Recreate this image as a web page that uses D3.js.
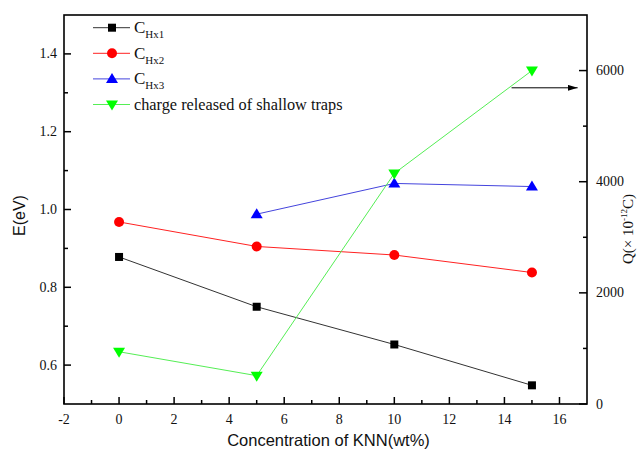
<!DOCTYPE html>
<html>
<head>
<meta charset="utf-8">
<script src="https://cdn.jsdelivr.net/npm/d3@7"></script>
<style>
body { margin: 0; background: #fff; }
svg text { fill: #111; }
.serif { font-family: "Liberation Serif", "DejaVu Serif", serif; }
.sans { font-family: "Liberation Sans", Arial, sans-serif; }
</style>
</head>
<body>
<svg id="view" width="637" height="457"></svg>
<script>
const concentration = [0, 5, 10, 15];
const cHx1 = [0.878, 0.750, 0.653, 0.548];
const cHx2 = [0.968, 0.905, 0.883, 0.838];
const cHx3 = [null, 0.988, 1.067, 1.059];
const shallowCharge = [940, 510, 4150, 6000];

const xTicks = [-2, 0, 2, 4, 6, 8, 10, 12, 14, 16];
const eTicks = [0.6, 0.8, 1.0, 1.2, 1.4];
const qTicks = [0, 2000, 4000, 6000];

const seriesE = [
    { sub: 'Hx1', values: cHx1, line: '#333', fill: '#000', shape: 'square' },
    { sub: 'Hx2', values: cHx2, line: '#f22', fill: '#f00', shape: 'circle' },
    { sub: 'Hx3', values: cHx3, line: '#44d', fill: '#00f', shape: 'up' }
];

const svg = d3.select('svg#view');
const plotL = 64, plotR = 587, plotT = 15, plotB = 404;

const x = d3.scaleLinear().domain([-2, 17]).range([plotL, plotR]);
const yE = d3.scaleLinear().domain([0.5, 1.5]).range([plotB, plotT]);
const yQ = d3.scaleLinear().domain([0, 7000]).range([plotB, plotT]);

function marker(sel, shape, fill) {
    if (shape === 'square') {
        sel.append('rect').attr('x', -4).attr('y', -4).attr('width', 8).attr('height', 8).attr('fill', fill);
    } else if (shape === 'circle') {
        sel.append('circle').attr('r', 5).attr('fill', fill);
    } else if (shape === 'up') {
        sel.append('path').attr('d', 'M0,-6L6,4L-6,4Z').attr('fill', fill);
    } else {
        sel.append('path').attr('d', 'M0,6L6,-4L-6,-4Z').attr('fill', fill);
    }
}

// axes (ticks inward)
const xAxis = svg.append('g').attr('transform', 'translate(0,' + plotB + ')');
xAxis.selectAll('line.major').data(xTicks).enter().append('line')
    .attr('x1', d => x(d)).attr('x2', d => x(d)).attr('y1', 0).attr('y2', -7)
    .attr('stroke', '#000').attr('stroke-width', 1.5);
xAxis.selectAll('line.minor').data(d3.range(-1, 17, 2)).enter().append('line')
    .attr('x1', d => x(d)).attr('x2', d => x(d)).attr('y1', 0).attr('y2', -4)
    .attr('stroke', '#000').attr('stroke-width', 1.5);
xAxis.selectAll('text').data(xTicks).enter().append('text')
    .attr('class', 'serif').attr('x', d => x(d)).attr('y', 20)
    .attr('text-anchor', 'middle').attr('font-size', 14).text(d => d);

const eAxis = svg.append('g').attr('transform', 'translate(' + plotL + ',0)');
eAxis.selectAll('line.major').data(eTicks).enter().append('line')
    .attr('y1', d => yE(d)).attr('y2', d => yE(d)).attr('x1', 0).attr('x2', 7)
    .attr('stroke', '#000').attr('stroke-width', 1.5);
eAxis.selectAll('line.minor').data([0.7, 0.9, 1.1, 1.3]).enter().append('line')
    .attr('y1', d => yE(d)).attr('y2', d => yE(d)).attr('x1', 0).attr('x2', 4)
    .attr('stroke', '#000').attr('stroke-width', 1.5);
eAxis.selectAll('text').data(eTicks).enter().append('text')
    .attr('class', 'serif').attr('x', -7).attr('y', d => yE(d) + 4.5)
    .attr('text-anchor', 'end').attr('font-size', 14).text(d => d.toFixed(1));

const qAxis = svg.append('g').attr('transform', 'translate(' + plotR + ',0)');
qAxis.selectAll('line.major').data(qTicks).enter().append('line')
    .attr('y1', d => yQ(d)).attr('y2', d => yQ(d)).attr('x1', 0).attr('x2', -8)
    .attr('stroke', '#000').attr('stroke-width', 1.5);
qAxis.selectAll('line.minor').data([1000, 3000, 5000]).enter().append('line')
    .attr('y1', d => yQ(d)).attr('y2', d => yQ(d)).attr('x1', 0).attr('x2', -4)
    .attr('stroke', '#000').attr('stroke-width', 1.5);
qAxis.selectAll('text').data(qTicks).enter().append('text')
    .attr('class', 'serif').attr('x', 9).attr('y', d => yQ(d) + 4.5)
    .attr('font-size', 14).text(d => d);

// frame
svg.append('rect').attr('x', plotL).attr('y', plotT)
    .attr('width', plotR - plotL).attr('height', plotB - plotT)
    .attr('fill', 'none').attr('stroke', '#000').attr('stroke-width', 1.6);

// E series
seriesE.forEach(function(s) {
    var pts = concentration.map((c, i) => ({ c: c, v: s.values[i] })).filter(p => p.v !== null);
    svg.append('path').datum(pts)
        .attr('d', d3.line().x(p => x(p.c)).y(p => yE(p.v)))
        .attr('fill', 'none').attr('stroke', s.line).attr('stroke-width', 1);
    svg.selectAll(null).data(pts).enter().append('g')
        .attr('transform', p => 'translate(' + x(p.c) + ',' + yE(p.v) + ')')
        .each(function() { marker(d3.select(this), s.shape, s.fill); });
});

// Q series
const qPts = concentration.map((c, i) => ({ c: c, v: shallowCharge[i] }));
svg.append('path').datum(qPts)
    .attr('d', d3.line().x(p => x(p.c)).y(p => yQ(p.v)))
    .attr('fill', 'none').attr('stroke', '#5e5').attr('stroke-width', 1);
svg.selectAll(null).data(qPts).enter().append('g')
    .attr('transform', p => 'translate(' + x(p.c) + ',' + yQ(p.v) + ')')
    .each(function() { marker(d3.select(this), 'down', '#0f0'); });

// arrow pointing to right axis
svg.append('defs').append('marker').attr('id', 'arr')
    .attr('viewBox', '0 0 10 6').attr('refX', 10).attr('refY', 3)
    .attr('markerWidth', 10).attr('markerHeight', 6).attr('markerUnits', 'userSpaceOnUse')
    .attr('orient', 'auto')
    .append('path').attr('d', 'M0,0L10,3L0,6Z').attr('fill', '#000');
svg.append('line')
    .attr('x1', x(14.26)).attr('x2', x(16.66))
    .attr('y1', yQ(5690)).attr('y2', yQ(5690))
    .attr('stroke', '#000').attr('stroke-width', 1).attr('marker-end', 'url(#arr)');

// legend
const legendItems = seriesE.map(s => ({ sub: s.sub, line: s.line, fill: s.fill, shape: s.shape }))
    .concat([{ label: 'charge released of shallow traps', line: '#5e5', fill: '#0f0', shape: 'down' }]);
const legend = svg.append('g');
legendItems.forEach(function(d, i) {
    var yy = 27.7 + i * 25.6;
    var g = legend.append('g').attr('transform', 'translate(0,' + yy + ')');
    g.append('line').attr('x1', 93).attr('x2', 130).attr('y1', 0).attr('y2', 0)
        .attr('stroke', d.line).attr('stroke-width', 1);
    var m = g.append('g').attr('transform', 'translate(112,0)');
    marker(m, d.shape, d.fill);
    var t = g.append('text').attr('class', 'serif').attr('x', 134).attr('y', 5.5);
    if (d.sub) {
        t.attr('font-size', 17).append('tspan').text('C');
        t.append('tspan').attr('font-size', 11).attr('dy', 5).text(d.sub);
    } else {
        t.attr('font-size', 16.3).text(d.label);
    }
});

// axis titles
svg.append('text').attr('class', 'sans').attr('font-size', 16)
    .attr('text-anchor', 'middle')
    .attr('transform', 'translate(25,' + ((plotT + plotB) / 2 + 6) + ') rotate(-90)')
    .text('E(eV)');
svg.append('text').attr('class', 'sans').attr('font-size', 16.5)
    .attr('text-anchor', 'middle').attr('x', (plotL + plotR) / 2 + 3).attr('y', 446)
    .text('Concentration of KNN(wt%)');
const qt = svg.append('text').attr('class', 'serif').attr('font-size', 15)
    .attr('text-anchor', 'middle')
    .attr('transform', 'translate(633,229) rotate(-90)');
qt.append('tspan').text('Q(\u00d7  10');
qt.append('tspan').attr('font-size', 9).attr('dy', -6).text('-12');
qt.append('tspan').attr('dy', 6).text('C)');
</script>
</body>
</html>
